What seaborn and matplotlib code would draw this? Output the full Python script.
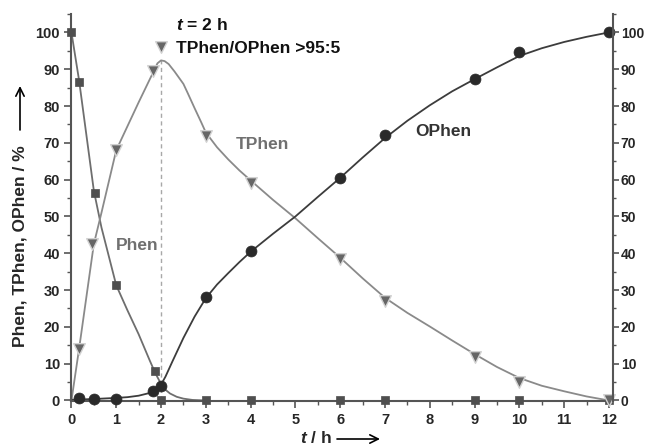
import matplotlib
matplotlib.use("Agg")
import matplotlib.pyplot as plt
from matplotlib.ticker import MultipleLocator
from matplotlib.patches import FancyArrowPatch
import pandas as pd
import seaborn as sns

# ---- measured data (markers) ----
t_phen = [0, 0.17, 0.52, 1.0, 1.86, 2.0, 3, 4, 6, 7, 9, 10, 12]
phen = [100, 86.5, 56.5, 31.3, 8.0, 0.2, 0.2, 0.2, 0.2, 0.2, 0.2, 0.2, 0.2]

t_tphen = [0.17, 0.45, 1.0, 1.83, 2.0, 3, 4, 6, 7, 9, 10, 12]
tphen = [14.0, 42.5, 68.0, 89.5, 96.0, 71.8, 59.0, 38.5, 27.0, 11.8, 5.0, 0.0]

t_ophen = [0.17, 0.51, 1.0, 1.83, 2.0, 3, 4, 6, 7, 9, 10, 12]
ophen = [0.6, 0.5, 0.3, 2.5, 4.0, 28.0, 40.5, 60.5, 72.2, 87.3, 94.6, 100.0]

# ---- fitted curves ----
fit_t_phen = [0, 0.17, 0.5, 0.67, 1.0, 1.25, 1.5, 1.75, 1.83, 1.9, 2.0, 2.1, 2.2,
              2.35, 2.5, 2.7, 3.0]
fit_phen = [100, 87, 57, 47, 31.3, 24.5, 18, 10.8, 8.6, 6.8, 4.5, 2.9, 1.9,
            1.0, 0.5, 0.15, 0.0]

fit_t_tphen = [0, 0.17, 0.5, 0.67, 1.0, 1.5, 1.83, 1.92, 2.0, 2.08, 2.17, 2.3, 2.5,
               2.6, 2.75, 2.9, 3.0, 3.25, 3.5, 3.75, 4.0, 4.5, 5.0, 5.5, 6.0, 6.5,
               7.0, 7.5, 8.0, 8.5, 9.0, 9.5, 10.0, 10.5, 11.0, 11.5, 12.0]
fit_tphen = [0, 14, 42.5, 51, 68, 81, 89.3, 91.6, 92.4, 92.2, 91.4, 89.4, 86.0,
             83.4, 79.4, 75.5, 72.8, 68.8, 65.5, 62.5, 59.8, 54.5, 49.5, 44.1, 38.8, 33.2,
             27.9, 23.8, 20.1, 16.3, 12.6, 9.1, 6.1, 4.0, 2.5, 1.1, 0.0]

fit_t_ophen = [0, 0.5, 1.0, 1.25, 1.5, 1.7, 1.83, 1.92, 2.0, 2.1, 2.25, 2.5, 2.75,
               3.0, 3.25, 3.5, 3.75, 4.0, 4.5, 5.0, 5.5, 6.0, 6.5, 7.0, 7.5, 8.0,
               8.5, 9.0, 9.5, 10.0, 10.5, 11.0, 11.5, 12.0]
fit_ophen = [0.2, 0.4, 0.7, 0.9, 1.3, 1.9, 2.5, 3.2, 4.3, 6.5, 10.5, 17.0, 22.8,
             27.8, 31.5, 34.6, 37.6, 40.4, 45.3, 50.0, 55.3, 60.5, 66.0, 71.3, 76.0, 80.2,
             84.0, 87.3, 90.5, 93.6, 95.7, 97.4, 98.8, 100.0]

peak_t = 2.0
peak_fit = 92.4

y_ticks = list(range(0, 101, 10))
x_ticks = list(range(0, 13, 1))

sns.set_theme(style="ticks")
plt.rcParams["font.family"] = ["Liberation Sans", "DejaVu Sans"]
plt.rcParams["font.weight"] = "bold"
plt.rcParams["mathtext.fontset"] = "custom"
plt.rcParams["mathtext.bfit"] = "Liberation Sans:italic:bold"
plt.rcParams["mathtext.bf"] = "Liberation Sans:bold"
plt.rcParams["mathtext.rm"] = "Liberation Sans:bold"

fig = plt.figure(figsize=(6.45, 4.45), dpi=100)
ax = fig.add_axes([71 / 645, 1 - 401 / 445, (613 - 71) / 645, (401 - 14) / 445])

c_phen_line = "#6e6e6e"
c_phen = "#4f4f4f"
c_tphen_line = "#8a8a8a"
c_ophen_line = "#3c3c3c"
c_ophen = "#2a2a2a"

# dashed guide
ax.vlines(peak_t, 0, peak_fit, colors="#a8a8a8", linestyles=(0, (3, 2.5)), linewidth=1.0, zorder=1)

df_fp = pd.DataFrame({"t": fit_t_phen, "y": fit_phen})
df_ft = pd.DataFrame({"t": fit_t_tphen, "y": fit_tphen})
df_fo = pd.DataFrame({"t": fit_t_ophen, "y": fit_ophen})
for df, c in [(df_fp, c_phen_line), (df_ft, c_tphen_line), (df_fo, c_ophen_line)]:
    sns.lineplot(data=df, x="t", y="y", ax=ax, color=c, linewidth=1.3,
                 sort=False, estimator=None, zorder=2)
for ln in ax.get_lines():
    ln.set_solid_joinstyle("round")

df_p = pd.DataFrame({"t": t_phen, "y": phen})
df_t = pd.DataFrame({"t": t_tphen, "y": tphen})
df_o = pd.DataFrame({"t": t_ophen, "y": ophen})
sns.scatterplot(data=df_p, x="t", y="y", ax=ax, marker="s", s=36, color=c_phen,
                edgecolor=c_phen, linewidth=0.5, zorder=3, clip_on=False)
sns.scatterplot(data=df_t, x="t", y="y", ax=ax, marker="v", s=70, color="#666666",
                edgecolor="#d2d2d2", linewidth=1.0, zorder=4, clip_on=False)
sns.scatterplot(data=df_o, x="t", y="y", ax=ax, marker="o", s=62, color=c_ophen,
                edgecolor=c_ophen, linewidth=0.5, zorder=5, clip_on=False)

ax.set_xlim(-0.01, 12.09)
ax.set_ylim(-0.14, 105)
ax.set_xlabel("")
ax.set_ylabel("")
ax.set_xticks(x_ticks)
ax.set_yticks(y_ticks)
ax.xaxis.set_minor_locator(MultipleLocator(0.5))
ax.yaxis.set_minor_locator(MultipleLocator(5))

spine_c = "#555555"
for s in ["top", "right"]:
    ax.spines[s].set_visible(False)
for s in ["left", "bottom"]:
    ax.spines[s].set_color(spine_c)
    ax.spines[s].set_linewidth(1.5)
ax.tick_params(axis="both", which="major", length=5, width=1.2, color=spine_c,
               labelsize=10.5, pad=3)
ax.tick_params(axis="both", which="minor", length=3, width=1.0, color=spine_c)
ax.tick_params(axis="x", pad=4)
for lab in ax.get_xticklabels() + ax.get_yticklabels():
    lab.set_fontweight("bold")

ax2 = ax.twinx()
ax2.set_ylim(ax.get_ylim())
ax2.set_yticks(y_ticks)
ax2.yaxis.set_minor_locator(MultipleLocator(5))
for s in ["top", "left", "bottom"]:
    ax2.spines[s].set_visible(False)
ax2.spines["right"].set_color(spine_c)
ax2.spines["right"].set_linewidth(1.5)
ax2.tick_params(axis="y", which="major", length=4, width=1.2, color=spine_c, labelsize=10, pad=1.5)
ax2.tick_params(axis="y", which="minor", length=2.5, width=1.0, color=spine_c)
for lab in ax2.get_yticklabels():
    lab.set_fontweight("bold")

# annotations
fs = 12.5
ax.text(2.33, 102.0, r"$\mathbfit{t}$ = 2 h", fontsize=fs, fontweight="bold", color="#111111",
        ha="left", va="center")
ax.text(2.33, 95.6, "TPhen/OPhen >95:5", fontsize=fs, fontweight="bold", color="#111111",
        ha="left", va="center")
ax.text(3.67, 69.6, "TPhen", fontsize=fs, fontweight="bold", color="#707070", ha="left", va="center")
ax.text(0.99, 42.2, "Phen", fontsize=fs, fontweight="bold", color="#707070", ha="left", va="center")
ax.text(7.68, 73.0, "OPhen", fontsize=fs, fontweight="bold", color="#333333", ha="left", va="center")

# axis labels with arrows
W, H = 645, 445
fig.text(20 / W, 1 - 246 / H, "Phen, TPhen, OPhen / %", rotation=90, fontsize=fs,
         fontweight="bold", ha="center", va="center")
fig.text(300 / W, 1 - 438 / H, r"$\mathbfit{t}$ / h", fontsize=fs, fontweight="bold",
         ha="left", va="center")
arrow_kw = dict(arrowstyle="->,head_length=0.5,head_width=0.25", color="black", lw=1.2,
                shrinkA=0, shrinkB=0, mutation_scale=12)
fig.add_artist(FancyArrowPatch((20 / W, 1 - 130 / H), (20 / W, 1 - 86 / H),
               transform=fig.transFigure, **arrow_kw))
fig.add_artist(FancyArrowPatch((337 / W, 1 - 439 / H), (380 / W, 1 - 439 / H),
               transform=fig.transFigure, **arrow_kw))

fig.savefig("out.png", dpi=100)
